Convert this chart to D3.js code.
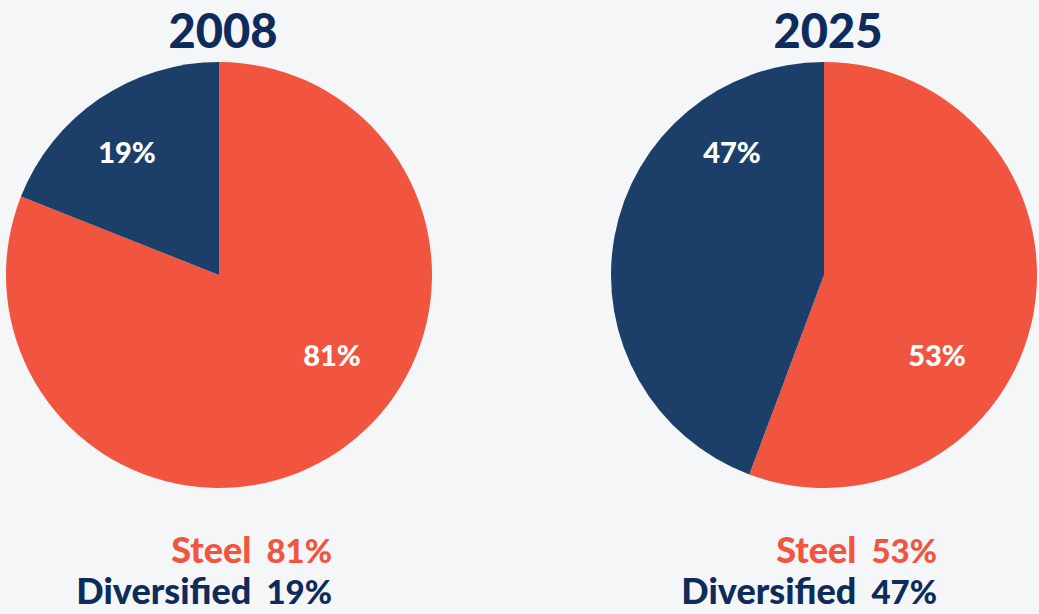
<!DOCTYPE html>
<html><head><meta charset="utf-8">
<script src="https://cdn.jsdelivr.net/npm/d3@7"></script>
<style>
html,body{margin:0;padding:0;background:#f4f6f8;}
svg{display:block;font-family:Lato,"Open Sans",sans-serif;}
</style></head>
<body><svg id="c" width="1039" height="614"></svg>
<script>
// Data
const years = ["2008", "2025"];
const categories = ["Steel", "Diversified"];
// slice shares as drawn in the picture
const sliceShare2008 = [81, 19];
const sliceShare2025 = [55.7, 44.3];
// labels printed on the chart
const labelPct2008 = ["81%", "19%"];
const labelPct2025 = ["53%", "47%"];

const sliceColors = ["#f2553f", "#1c3f6a"];
const textColors = ["#f2553f", "#0d2b5b"];

const svg = d3.select("#c");
const R = 213;
const centers = [219, 824];
const cy = 275;

const groups = [
  {year: years[0], shares: sliceShare2008, labels: labelPct2008},
  {year: years[1], shares: sliceShare2025, labels: labelPct2025}
];

const pie = d3.pie().sort(null).value(d => d.v);
const arc = d3.arc().innerRadius(0).outerRadius(R);
const color = d3.scaleOrdinal().domain(categories).range(sliceColors);
const tcolor = d3.scaleOrdinal().domain(categories).range(textColors);

// fixed label offsets relative to pie center (layout)
const labelOffset = {Steel: [113, 81], Diversified: [-92, -122]};

groups.forEach((g, gi) => {
  const cx = centers[gi];
  const data = categories.map((c, i) => ({c, v: g.shares[i], lab: g.labels[i]}));
  const G = svg.append("g").attr("transform", `translate(${cx},${cy})`);
  G.selectAll("path").data(pie(data)).join("path")
    .attr("d", arc).attr("fill", d => color(d.data.c));
  G.selectAll("text.pl").data(data).join("text").attr("class", "pl")
    .attr("x", d => labelOffset[d.c][0]).attr("y", d => labelOffset[d.c][1])
    .attr("dy", "0.36em").attr("text-anchor", "middle")
    .attr("fill", "#fff").attr("font-weight", 900).attr("font-size", 29)
    .text(d => d.lab);
  svg.append("text").attr("x", cx + 4).attr("y", 48).attr("text-anchor", "middle")
    .attr("fill", "#0d2b5b").attr("font-weight", 900).attr("font-size", 47)
    .text(g.year);
  data.forEach((d, i) => {
    const y = 563 + i * 41;
    const pct = svg.append("text").attr("x", cx + 113).attr("y", y)
      .attr("text-anchor", "end").attr("fill", tcolor(d.c))
      .attr("font-weight", 900).attr("font-size", 33)
      .text(d.lab);
    const w = pct.node().getComputedTextLength();
    svg.append("text").attr("x", cx + 113 - w - 15).attr("y", y)
      .attr("text-anchor", "end").attr("fill", tcolor(d.c))
      .attr("font-weight", 900).attr("font-size", 36)
      .text(d.c);
  });
});
</script></body></html>
